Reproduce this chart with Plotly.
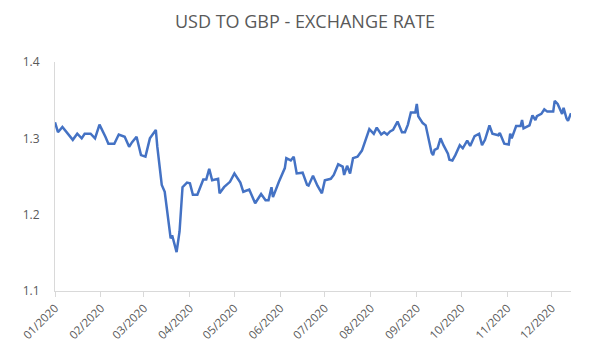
import pandas as pd
import plotly.graph_objects as go

# Day offsets from 2020-01-01 and the USD->GBP rate
day_of_year = [0, 2, 5, 8, 12, 15, 18, 20, 24, 27, 30, 34, 36, 40, 43, 47, 50, 52, 55, 58,
               61, 64, 68, 69, 72, 74, 78, 79, 82, 84, 86, 89, 91, 93, 96, 100, 102, 104, 106, 110,
               111, 114, 118, 121, 125, 127, 131, 135, 139, 142, 144, 146, 147, 151, 155, 156, 159, 161, 163, 167,
               170, 171, 174, 177, 180, 182, 186, 188, 191, 194, 195, 197, 199, 201, 204, 207, 209, 212, 215, 217,
               220, 222, 224, 226, 228, 231, 234, 236, 238, 240, 243, 244, 245, 248, 250, 252, 254, 255, 256, 258,
               260, 262, 265, 266, 268, 270, 273, 275, 278, 280, 283, 286, 288, 290, 293, 295, 299, 300, 303, 306,
               307, 308, 311, 314, 315, 316, 319, 320, 322, 324, 325, 328, 330, 332, 336, 337, 339, 341, 342, 343,
               345, 346, 348]
rate = [1.321, 1.308, 1.315, 1.308, 1.298, 1.306, 1.300, 1.306, 1.306, 1.300, 1.318, 1.302, 1.293, 1.293, 1.305, 1.302, 1.289, 1.295, 1.302, 1.278,
        1.276, 1.300, 1.311, 1.289, 1.239, 1.230, 1.169, 1.173, 1.151, 1.178, 1.236, 1.242, 1.241, 1.226, 1.226, 1.246, 1.246, 1.260, 1.245, 1.247,
        1.228, 1.236, 1.243, 1.254, 1.242, 1.230, 1.233, 1.215, 1.227, 1.219, 1.219, 1.236, 1.223, 1.243, 1.261, 1.274, 1.271, 1.276, 1.254, 1.255,
        1.239, 1.238, 1.251, 1.238, 1.228, 1.245, 1.247, 1.252, 1.266, 1.263, 1.252, 1.264, 1.254, 1.274, 1.276, 1.284, 1.295, 1.312, 1.306, 1.314,
        1.305, 1.308, 1.305, 1.309, 1.311, 1.322, 1.308, 1.308, 1.318, 1.334, 1.334, 1.345, 1.329, 1.320, 1.317, 1.300, 1.281, 1.278, 1.285, 1.287,
        1.300, 1.291, 1.280, 1.272, 1.271, 1.278, 1.291, 1.287, 1.297, 1.290, 1.303, 1.306, 1.291, 1.298, 1.317, 1.306, 1.304, 1.307, 1.293, 1.292,
        1.306, 1.300, 1.316, 1.316, 1.324, 1.313, 1.316, 1.317, 1.330, 1.324, 1.329, 1.332, 1.338, 1.335, 1.335, 1.349, 1.345, 1.336, 1.332, 1.340,
        1.326, 1.323, 1.333]

month_starts = ["2020-01-01", "2020-02-01", "2020-03-01", "2020-04-01", "2020-05-01", "2020-06-01",
                "2020-07-01", "2020-08-01", "2020-09-01", "2020-10-01", "2020-11-01", "2020-12-01"]
month_labels = ["01/2020", "02/2020", "03/2020", "04/2020", "05/2020", "06/2020",
                "07/2020", "08/2020", "09/2020", "10/2020", "11/2020", "12/2020"]
y_ticks = [1.1, 1.2, 1.3, 1.4]

dates = pd.Timestamp("2020-01-01") + pd.to_timedelta(day_of_year, unit="D")

fig = go.Figure()
fig.add_trace(go.Scatter(x=dates, y=rate, mode="lines",
                         line=dict(color="#4472C4", width=2.5), hoverinfo="x+y"))

font_family = "Open Sans, Noto Sans, sans-serif"

fig.update_layout(
    width=594, height=353,
    margin=dict(l=47, r=31, t=54, b=70),
    paper_bgcolor="white", plot_bgcolor="white",
    showlegend=False,
    title=dict(text="USD TO GBP - EXCHANGE RATE", x=0.5, xanchor="center", xref="container",
               y=0.96, yanchor="middle", yref="container",
               font=dict(family=font_family, size=18, color="#595959")),
    xaxis=dict(type="date", range=[dates[0], dates[-1]],
               tickvals=month_starts, ticktext=month_labels, tickangle=-45,
               ticks="outside", ticklen=5, tickcolor="#d9d9d9",
               showline=True, linecolor="#d9d9d9", linewidth=1,
               showgrid=False, zeroline=False,
               tickfont=dict(family=font_family, size=11.5, color="#595959")),
    yaxis=dict(range=[1.1, 1.4], tickvals=y_ticks, ticktext=[f"{v:.1f}" for v in y_ticks],
               showline=True, linecolor="#d9d9d9", linewidth=1,
               showgrid=False, zeroline=False, ticks="", ticklabelstandoff=12,
               tickfont=dict(family=font_family, size=12, color="#595959")),
)

fig.write_html("out.html")
